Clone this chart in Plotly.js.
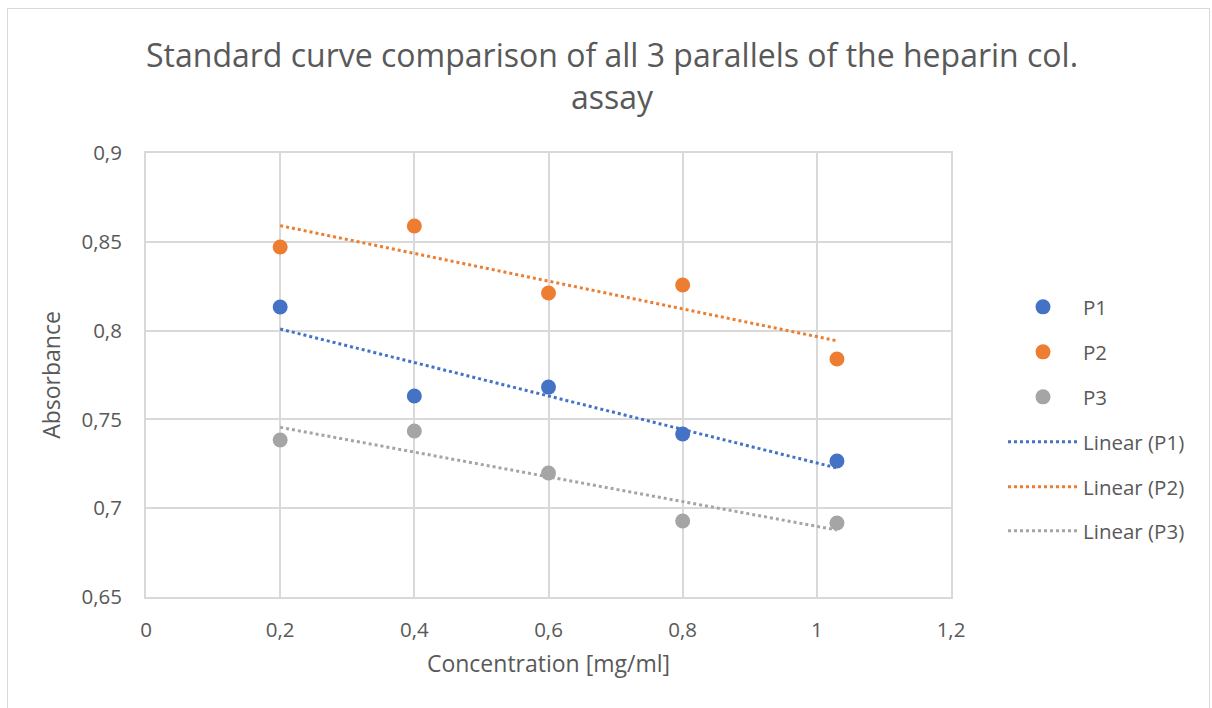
<!DOCTYPE html>
<html>
<head>
<meta charset="utf-8">
<script src="https://cdn.plot.ly/plotly-3.0.1.min.js"></script>
<style>
  html, body { margin: 0; padding: 0; background: #fff; }
  #frame { position: absolute; left: 7px; top: 8px; width: 1203px; height: 720px; border: 1px solid #d9d9d9; box-sizing: border-box; }
  #chart { position: absolute; left: 0; top: 0; width: 1212px; height: 708px; }
</style>
</head>
<body>
<div id="frame"></div>
<div id="chart"></div>
<script>
// Data
const concentration = [0.2, 0.4, 0.6, 0.8, 1.03];
const P1 = [0.8133, 0.7632, 0.7682, 0.7418, 0.7266];
const P2 = [0.8471, 0.8589, 0.8212, 0.8257, 0.7840];
const P3 = [0.7384, 0.7435, 0.7198, 0.6928, 0.6917];
const seriesNames = ['P1', 'P2', 'P3'];
const xTickVals = [0, 0.2, 0.4, 0.6, 0.8, 1, 1.2];
const xTickText = ['0', '0,2', '0,4', '0,6', '0,8', '1', '1,2'];
const yTickVals = [0.65, 0.7, 0.75, 0.8, 0.85, 0.9];
const yTickText = ['0,65', '0,7', '0,75', '0,8', '0,85', '0,9'];

const colors = ['#4472C4', '#ED7D31', '#A5A5A5'];
const fontFam = '"Open Sans", "Noto Sans", sans-serif';
const textColor = '#595959';

function linFit(xs, ys) {
  const n = xs.length;
  const mx = xs.reduce((a, b) => a + b, 0) / n;
  const my = ys.reduce((a, b) => a + b, 0) / n;
  let sxy = 0, sxx = 0;
  for (let i = 0; i < n; i++) { sxy += (xs[i] - mx) * (ys[i] - my); sxx += (xs[i] - mx) ** 2; }
  const b = sxy / sxx, a = my - b * mx;
  const x0 = Math.min(...xs), x1 = Math.max(...xs);
  return { x: [x0, x1], y: [a + b * x0, a + b * x1] };
}

// plot area in pixels
const L = 146, R = 951, T = 153, B = 597;
const px2x = p => (p - L) / (R - L);
const py2y = p => (B - p) / (B - T);
const legendRows = [307, 352, 397, 442, 487, 531];
const legendLeft = 1003;

const allY = [P1, P2, P3];
const traces = [];
const layoutLegends = {};
seriesNames.forEach((nm, i) => {
  traces.push({
    x: concentration, y: allY[i], type: 'scatter', mode: 'markers', name: nm,
    marker: { color: colors[i], size: 15 },
    legend: i === 0 ? 'legend' : 'legend' + (i + 1),
    hoverinfo: 'x+y'
  });
});
seriesNames.forEach((nm, i) => {
  const f = linFit(concentration, allY[i]);
  traces.push({
    x: f.x, y: f.y, type: 'scatter', mode: 'lines', name: 'Linear (' + nm + ')',
    line: { color: colors[i], width: 3, dash: 'dot' },
    legend: 'legend' + (i + 4),
    hoverinfo: 'skip'
  });
});

for (let k = 0; k < 6; k++) {
  const key = k === 0 ? 'legend' : 'legend' + (k + 1);
  layoutLegends[key] = {
    x: px2x(legendLeft), y: py2y(legendRows[k]), xanchor: 'left', yanchor: 'middle',
    xref: 'paper', yref: 'paper',
    font: { family: fontFam, size: 20.5, color: textColor },
    bgcolor: 'rgba(0,0,0,0)', borderwidth: 0, itemwidth: 70
  };
}

const layout = Object.assign({
  width: 1212, height: 708,
  paper_bgcolor: 'rgba(0,0,0,0)', plot_bgcolor: '#fff',
  margin: { l: L, r: 1212 - R, t: T, b: 708 - B },
  showlegend: true,
  title: {
    text: 'Standard curve comparison of all 3 parallels of the heparin col.<br>assay',
    font: { family: fontFam, size: 32, color: textColor },
    x: 0.505, xanchor: 'center', yref: 'container', y: 0.905, yanchor: 'top'
  },
  xaxis: {
    range: [0, 1.2], tickvals: xTickVals, ticktext: xTickText,
    showgrid: true, gridcolor: '#d9d9d9', gridwidth: 2,
    showline: true, linecolor: '#d9d9d9', linewidth: 2, mirror: true,
    zeroline: false, ticks: '', ticklabelstandoff: 13,
    tickfont: { family: fontFam, size: 20.5, color: textColor },
    title: { text: 'Concentration [mg/ml]', font: { family: fontFam, size: 23, color: textColor }, standoff: 14 }
  },
  yaxis: {
    range: [0.65, 0.9], tickvals: yTickVals, ticktext: yTickText,
    showgrid: true, gridcolor: '#d9d9d9', gridwidth: 2,
    showline: true, linecolor: '#d9d9d9', linewidth: 2, mirror: true,
    zeroline: false, ticks: '', ticklabelstandoff: 18,
    tickfont: { family: fontFam, size: 20.5, color: textColor },
    title: { text: 'Absorbance', font: { family: fontFam, size: 23, color: textColor }, standoff: 14 }
  }
}, layoutLegends);

Plotly.newPlot('chart', traces, layout, { displayModeBar: false, responsive: false });
</script>
</body>
</html>
